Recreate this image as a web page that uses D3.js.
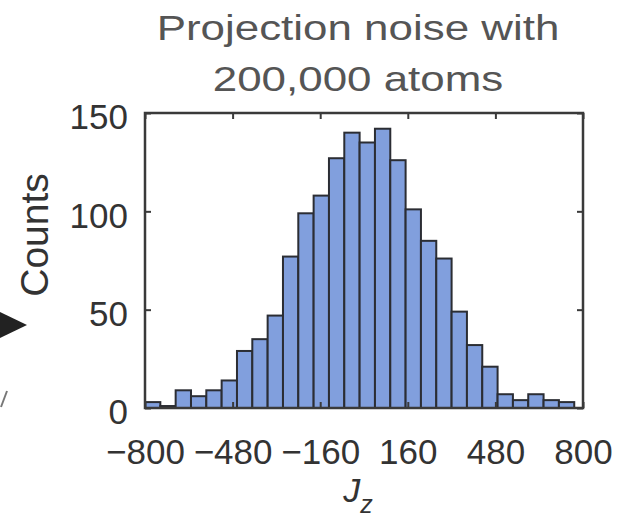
<!DOCTYPE html>
<html>
<head>
<meta charset="utf-8">
<script src="https://cdn.jsdelivr.net/npm/d3@7"></script>
<style>
  body { margin: 0; background: #fff; }
  text { font-family: "Liberation Sans", Arial, sans-serif; }
</style>
</head>
<body>
<div id="chart"></div>
<script>
// histogram counts
var counts = [3, 1, 9, 6, 9, 14, 29, 35, 47, 77, 99, 108, 127, 140, 135, 142, 126, 101, 85, 76, 49, 32, 21, 7, 4, 7, 4, 3];
var binStart = -800, binWidth = 56;
var xTicks = [-800, -480, -160, 160, 480, 800];
var yTicks = [0, 50, 100, 150];
var titleLines = ["Projection noise with", "200,000 atoms"];

var width = 617, height = 520;
var margin = {left: 145, right: 34, top: 113, bottom: 112};

var svg = d3.select("#chart").append("svg")
  .attr("width", width)
  .attr("height", height);

var x = d3.scaleLinear().domain([-800, 800]).range([margin.left, width - margin.right]);
var y = d3.scaleLinear().domain([0, 150]).range([height - margin.bottom, margin.top]);

var bins = counts.map(function(c, i) {
  return {x0: binStart + i * binWidth, x1: binStart + (i + 1) * binWidth, n: c};
});

// bars
svg.append("g").selectAll("rect")
  .data(bins)
  .enter().append("rect")
    .attr("x", function(d) { return x(d.x0); })
    .attr("y", function(d) { return y(d.n); })
    .attr("width", function(d) { return x(d.x1) - x(d.x0); })
    .attr("height", function(d) { return y(0) - y(d.n); })
    .style("fill", "#819fdd")
    .style("stroke", "#2b2d33")
    .style("stroke-width", 2);

// box with inward ticks (matlab style)
var axisColor = "#3a3a3a";
var noLabel = function() { return ""; };
var axBottom = d3.axisBottom(x).tickValues(xTicks).tickSize(-6).tickPadding(31)
  .tickFormat(function(d) { return d < 0 ? "\u2212" + (-d) : d; });
var axTop = d3.axisTop(x).tickValues(xTicks).tickSize(-6).tickFormat(noLabel);
var axLeft = d3.axisLeft(y).tickValues(yTicks).tickSize(-6).tickPadding(17);
var axRight = d3.axisRight(y).tickValues(yTicks).tickSize(-6).tickFormat(noLabel);

function styleAxis(g) {
  g.select(".domain").remove();
  g.selectAll("line").style("stroke", axisColor).style("stroke-width", 2);
  g.selectAll("text").style("font-size", "35px").style("fill", "#333");
}
svg.append("g").attr("transform", "translate(0," + y(0) + ")").call(axBottom).call(styleAxis);
svg.append("g").attr("transform", "translate(0," + y(150) + ")").call(axTop).call(styleAxis);
svg.append("g").attr("transform", "translate(" + x(-800) + ",0)").call(axLeft).call(styleAxis)
  .selectAll("text").attr("dy", "0.45em");
svg.append("g").attr("transform", "translate(" + x(800) + ",0)").call(axRight).call(styleAxis);

svg.append("rect")
  .attr("x", x(-800)).attr("y", y(150))
  .attr("width", x(800) - x(-800)).attr("height", y(0) - y(150))
  .style("fill", "none").style("stroke", axisColor).style("stroke-width", 2.5);

// title (the source lettering is a bit wider than Liberation Sans)
svg.append("g")
  .attr("transform", "translate(358,0) scale(1.22,1)")
  .selectAll("text")
  .data(titleLines)
  .enter().append("text")
    .attr("x", 0)
    .attr("y", function(d, i) { return 40 + i * 51; })
    .attr("text-anchor", "middle")
    .style("font-size", "36px")
    .style("fill", "#555")
    .text(function(d) { return d; });

// axis labels
svg.append("text")
  .attr("transform", "translate(48,235) rotate(-90)")
  .attr("text-anchor", "middle")
  .style("font-size", "39px")
  .style("fill", "#333")
  .text("Counts");

var xl = svg.append("text")
  .attr("x", 358).attr("y", 502)
  .attr("text-anchor", "middle")
  .style("font-size", "34px")
  .style("font-style", "italic")
  .style("fill", "#333");
xl.append("tspan").text("J");
xl.append("tspan").attr("dy", 11).style("font-size", "25px").text("z");

// bits of neighbouring panel at the left edge
svg.append("path")
  .attr("d", "M0,312 L27,325 L0,338 Z")
  .style("fill", "#222");
svg.append("path")
  .attr("d", "M1,407 L7,391")
  .style("stroke", "#777").style("stroke-width", 2);
</script>
</body>
</html>
